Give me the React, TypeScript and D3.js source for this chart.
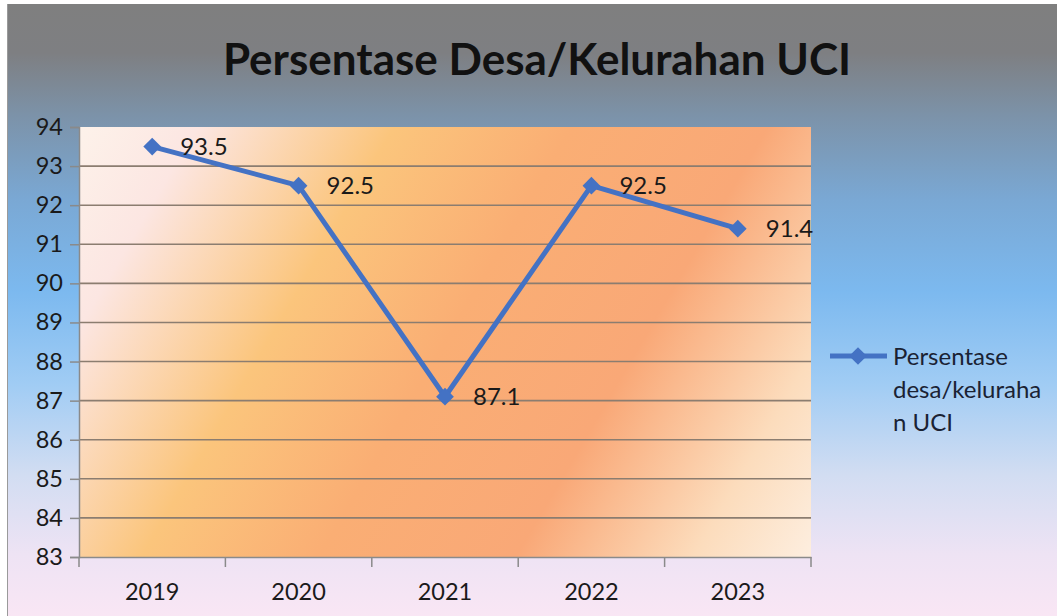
import React, { useEffect, useRef } from 'react';
import * as d3 from 'd3';

const years = ['2019', '2020', '2021', '2022', '2023'];
const persentase = [93.5, 92.5, 87.1, 92.5, 91.4];
const yTicks = [83, 84, 85, 86, 87, 88, 89, 90, 91, 92, 93, 94];
const chartTitle = 'Persentase Desa/Kelurahan UCI';
const legendLines = ['Persentase', 'desa/keluraha', 'n UCI'];

const App = () => {
  const ref = useRef<SVGSVGElement>(null);

  useEffect(() => {
    const width = 1057;
    const height = 616;
    const plot = { left: 79, right: 811, top: 127, bottom: 557 };
    const font = 'Lato, "Open Sans", sans-serif';

    const svg = d3.select(ref.current).attr('width', width).attr('height', height);
    svg.selectAll('*').remove();

    const defs = svg.append('defs');

    // outer slide background, grey -> blue -> pale pink
    const bg = defs.append('linearGradient').attr('id', 'bgGrad')
      .attr('x1', 0).attr('y1', 0).attr('x2', 0).attr('y2', 1);
    [
      [0, '#7f7f7f'], [0.08, '#7e7f82'], [0.18, '#7c92a8'], [0.32, '#7aa8d4'],
      [0.47, '#7cb9ef'], [0.62, '#a0ccf4'], [0.77, '#d2ddf2'], [0.9, '#eee3f4'], [1, '#f9e6f4'],
    ].forEach(([o, c]) => bg.append('stop').attr('offset', o as number).attr('stop-color', c as string));

    // plot area background, diagonal orange/salmon
    const pg = defs.append('linearGradient').attr('id', 'plotGrad')
      .attr('gradientUnits', 'userSpaceOnUse')
      .attr('x1', plot.left).attr('y1', plot.top).attr('x2', plot.right).attr('y2', plot.bottom);
    [
      [0, '#fdf2ea'], [0.12, '#fce6e2'], [0.32, '#fbc57c'], [0.5, '#faae74'],
      [0.7, '#f9a877'], [0.88, '#fcdcbc'], [1, '#fdeedf'],
    ].forEach(([o, c]) => pg.append('stop').attr('offset', o as number).attr('stop-color', c as string));

    svg.append('rect').attr('width', width).attr('height', height).attr('fill', '#ffffff');
    svg.append('rect').attr('x', 7).attr('y', 4).attr('width', width - 7).attr('height', height - 4)
      .attr('fill', 'url(#bgGrad)');
    svg.append('line').attr('x1', 7.5).attr('x2', 7.5).attr('y1', 4).attr('y2', height)
      .attr('stroke', '#9a9a9a').attr('stroke-width', 1);

    svg.append('text')
      .attr('x', 537).attr('y', 75)
      .attr('text-anchor', 'middle')
      .style('font-family', font).style('font-weight', 'bold').style('font-size', '44px')
      .attr('fill', '#111')
      .text(chartTitle);

    const x = d3.scaleBand().domain(years).range([plot.left, plot.right]).padding(0);
    const y = d3.scaleLinear().domain([83, 94]).range([plot.bottom, plot.top]);

    svg.append('rect')
      .attr('x', plot.left).attr('y', plot.top)
      .attr('width', plot.right - plot.left).attr('height', plot.bottom - plot.top)
      .attr('fill', 'url(#plotGrad)');

    // gridlines
    svg.append('g').selectAll('line')
      .data(yTicks.filter(t => t > 83 && t < 94))
      .enter().append('line')
      .attr('x1', plot.left).attr('x2', plot.right)
      .attr('y1', d => y(d)).attr('y2', d => y(d))
      .attr('stroke', '#8b7d70').attr('stroke-width', 1.6);

    // y axis
    const yAxis = svg.append('g')
      .attr('transform', `translate(${plot.left},0)`)
      .call(d3.axisLeft(y).tickValues(yTicks).tickSize(9).tickPadding(7).tickFormat(d3.format('d')));
    yAxis.select('.domain').attr('stroke', '#8a8a8a').attr('stroke-width', 1.5);
    yAxis.selectAll('.tick line').attr('stroke', '#8a8a8a').attr('stroke-width', 1.5);
    yAxis.selectAll('.tick text')
      .style('font-family', font).style('font-size', '23.5px').attr('fill', '#1a1a1a');

    // x axis
    const xAxis = svg.append('g')
      .attr('transform', `translate(0,${plot.bottom})`)
      .call(d3.axisBottom(x).tickSize(0).tickPadding(26));
    xAxis.select('.domain').attr('stroke', '#8a8a8a').attr('stroke-width', 1.5);
    xAxis.selectAll('.tick text')
      .style('font-family', font).style('font-size', '23.5px').attr('fill', '#1a1a1a');
    xAxis.append('g').selectAll('line')
      .data(d3.range(years.length + 1))
      .enter().append('line')
      .attr('x1', i => plot.left + i * x.step()).attr('x2', i => plot.left + i * x.step())
      .attr('y1', 0).attr('y2', 10)
      .attr('stroke', '#8a8a8a').attr('stroke-width', 1.5);

    const cx = (d: string) => (x(d) as number) + x.bandwidth() / 2;
    const blue = '#4472c4';

    const line = d3.line<number>()
      .x((d, i) => cx(years[i]))
      .y(d => y(d));

    svg.append('path')
      .datum(persentase)
      .attr('d', line)
      .attr('fill', 'none')
      .attr('stroke', blue)
      .attr('stroke-width', 5)
      .attr('stroke-linejoin', 'round');

    const diamond = d3.symbol().type(d3.symbolDiamond2).size(200);

    svg.append('g').selectAll('path')
      .data(persentase)
      .enter().append('path')
      .attr('d', diamond)
      .attr('transform', (d, i) => `translate(${cx(years[i])},${y(d)})`)
      .attr('fill', blue);

    svg.append('g').selectAll('text')
      .data(persentase)
      .enter().append('text')
      .attr('x', (d, i) => cx(years[i]) + 28)
      .attr('y', d => y(d) + 8)
      .style('font-family', font).style('font-size', '24px')
      .attr('fill', '#1a1a1a')
      .text(d => d3.format('.1f')(d));

    // legend
    const legend = svg.append('g').attr('transform', 'translate(830,356)');
    legend.append('line').attr('x1', 0).attr('x2', 57).attr('y1', 0).attr('y2', 0)
      .attr('stroke', blue).attr('stroke-width', 5);
    legend.append('path').attr('d', diamond).attr('transform', 'translate(28,0)').attr('fill', blue);
    legend.append('g').selectAll('text')
      .data(legendLines)
      .enter().append('text')
      .attr('x', 63)
      .attr('y', (d, i) => 9 + i * 33)
      .style('font-family', font).style('font-size', '24px')
      .attr('fill', '#1a2233')
      .text(d => d);
  }, []);

  return <svg ref={ref} style={{ position: 'absolute', left: 0, top: 0, display: 'block' }} />;
};

export default App;
